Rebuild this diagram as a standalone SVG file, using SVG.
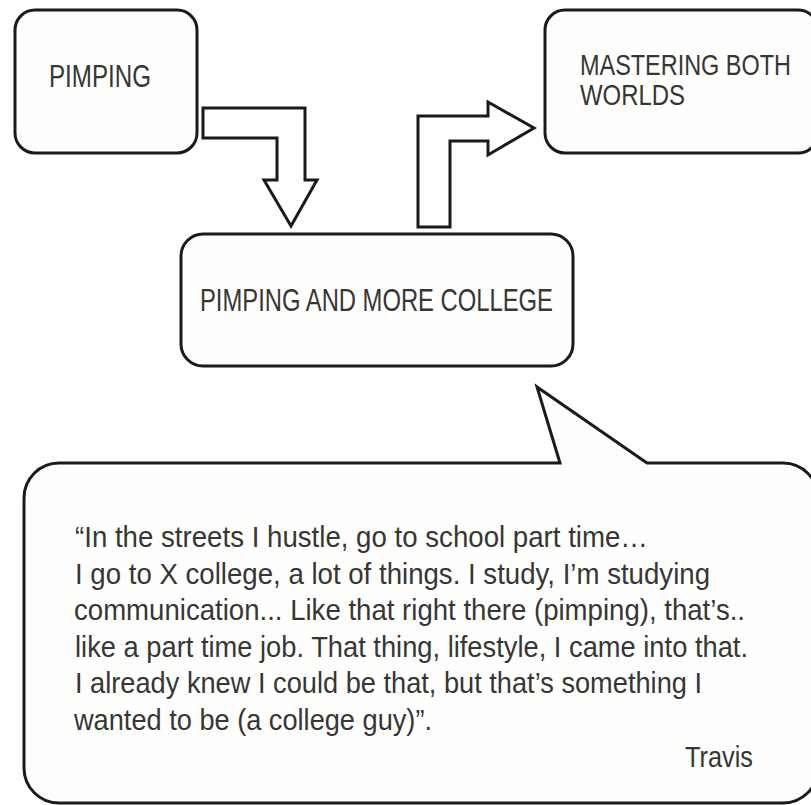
<svg xmlns="http://www.w3.org/2000/svg" width="811" height="805" viewBox="0 0 811 805">
<style>
.box{fill:#fefefc;stroke:#1a1a1a;stroke-width:3}
.arrow{fill:#ffffff;stroke:#1a1a1a;stroke-width:3;stroke-linejoin:miter}
.lbl{font-family:"Liberation Sans",Arial,sans-serif;font-size:31px;fill:#363636}
.q{font-family:"Liberation Sans",Arial,sans-serif;font-size:29.5px;fill:#363636}
</style>
<rect width="811" height="805" fill="#ffffff"/>
<g id="connectors">
<polygon class="arrow" points="203,108 305,108 305,180 317,180 291,226 264,180 277,180 277,138 203,138"/>
<polygon class="arrow" points="418,227 418,116 488,116 488,102 534,128 488,155 488,141 450,141 450,227"/>
</g>
<g id="pimping">
<rect class="box" x="15" y="10" width="182" height="143" rx="20"/>
<text class="lbl" x="49" y="87" textLength="102" lengthAdjust="spacingAndGlyphs">PIMPING</text>
</g>
<g id="mastering">
<rect class="box" x="545" y="10" width="273" height="143" rx="20"/>
<g transform="translate(580,0) scale(0.78,1)">
<text class="lbl" x="0" y="75" style="font-size:30px" textLength="270.5" lengthAdjust="spacingAndGlyphs">MASTERING BOTH</text>
<text class="lbl" x="0" y="105" style="font-size:30px" textLength="134.6" lengthAdjust="spacingAndGlyphs">WORLDS</text>
</g>
</g>
<g id="college">
<rect class="box" x="181" y="234" width="392" height="132" rx="22"/>
<text class="lbl" x="200" y="311" textLength="353" lengthAdjust="spacingAndGlyphs">PIMPING AND MORE COLLEGE</text>
</g>
<g id="quote">
<path class="box" d="M59,463 L560,463 L537,387 L647,463 L783,463 A35,35 0 0 1 818,498 L818,768 A35,35 0 0 1 783,803 L59,803 A35,35 0 0 1 24,768 L24,498 A35,35 0 0 1 59,463 Z"/>
<text class="q" x="75" y="547" textLength="573" lengthAdjust="spacingAndGlyphs">“In the streets I hustle, go to school part time…</text>
<text class="q" x="75" y="584" textLength="635" lengthAdjust="spacingAndGlyphs">I go to X college, a lot of things. I study, I’m studying</text>
<text class="q" x="74" y="620" textLength="671" lengthAdjust="spacingAndGlyphs">communication... Like that right there (pimping), that’s..</text>
<text class="q" x="75" y="657" textLength="673" lengthAdjust="spacingAndGlyphs">like a part time job. That thing, lifestyle, I came into that.</text>
<text class="q" x="75" y="693" textLength="627" lengthAdjust="spacingAndGlyphs">I already knew I could be that, but that’s something I</text>
<text class="q" x="74" y="730" textLength="358" lengthAdjust="spacingAndGlyphs">wanted to be (a college guy)”.</text>
<text class="q" x="685" y="767" textLength="68" lengthAdjust="spacingAndGlyphs">Travis</text>
</g>
</svg>
